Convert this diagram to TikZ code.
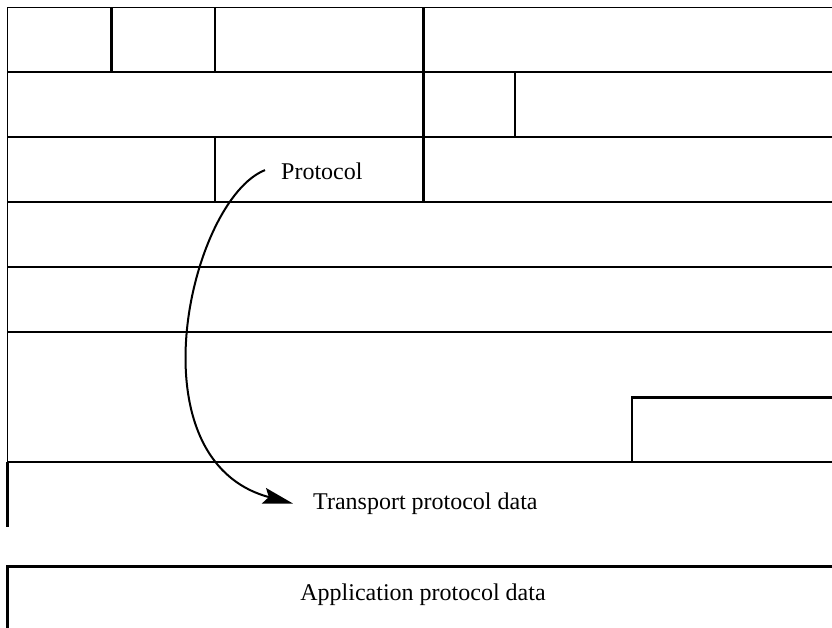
\documentclass[tikz,border=0pt]{standalone}
\usepackage{fontspec}
\setmainfont{Liberation Serif}
\usetikzlibrary{arrows.meta}
\begin{document}
\begin{tikzpicture}[x=1pt,y=-1pt,
  thinrule/.style={line width=1.3pt},
  thickrule/.style={line width=2.4pt},
  lbl/.style={font=\fontsize{24}{28}\selectfont, inner sep=0pt},
  flow/.style={line width=2pt, -{Stealth[length=30pt,width=16pt,inset=5pt]}}]
\useasboundingbox (0,0) rectangle (832,628);
\fill[white] (0,0) rectangle (832,628);

% horizontal rules of the field stack
\foreach \y in {7.3,72,137,202,267,332,462}
  \draw[thinrule] (7.3,\y) -- (832,\y);
\draw[thinrule] (7.3,7.3) -- (7.3,462);
\draw[thickrule] (7.3,462) -- (7.3,527);

% field dividers
\draw[thickrule] (111.5,7.3) -- (111.5,72);
\draw[thickrule] (215,7.3) -- (215,72);
\draw[thickrule] (423.5,7.3) -- (423.5,72);
\draw[thickrule] (423.5,72) -- (423.5,137);
\draw[thickrule] (515,72) -- (515,137);
\draw[thickrule] (215,137) -- (215,202);
\draw[thickrule] (423.5,137) -- (423.5,202);
\draw[thickrule] (632,462) -- (632,397.3) -- (832,397.3);

% application data box
\draw[thickrule] (832,566.5) -- (7.3,566.5) -- (7.3,628);

% labels
\node[lbl, anchor=base west] (proto) at (281,179.3) {Protocol};
\node[lbl, anchor=base west] (transport) at (313,509.3) {Transport protocol data};
\node[lbl, anchor=base] (app) at (423,600) {Application protocol data};

% protocol pointer
\draw[flow] ([xshift=-16pt,yshift=1pt]proto.west)
  .. controls (190,200) and (130,460) .. ([xshift=-20pt]transport.west);
\end{tikzpicture}
\end{document}
